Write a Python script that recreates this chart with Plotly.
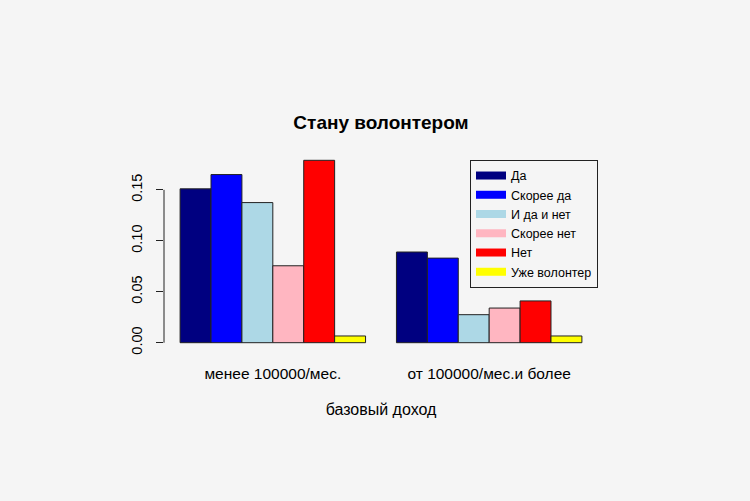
import plotly.graph_objects as go

categories = ["менее 100000/мес.", "от 100000/мес.и более"]
responses = ["Да", "Скорее да", "И да и нет", "Скорее нет", "Нет", "Уже волонтер"]
values = {
    "Да": [0.151, 0.089],
    "Скорее да": [0.165, 0.083],
    "И да и нет": [0.1375, 0.0275],
    "Скорее нет": [0.0755, 0.034],
    "Нет": [0.179, 0.041],
    "Уже волонтер": [0.0066, 0.0066],
}
colors = ["#000080", "#0000FF", "#ADD8E6", "#FFB6C1", "#FF0000", "#FFFF00"]
ytick_vals = [0.0, 0.05, 0.10, 0.15]
ytick_text = ["0.00", "0.05", "0.10", "0.15"]

BG = "#F5F5F5"
FONT = "Liberation Sans, Arial, sans-serif"

fig = go.Figure()
for name, col in zip(responses, colors):
    fig.add_trace(go.Bar(
        x=categories, y=values[name], name=name,
        marker=dict(color=col, line=dict(color="#222222", width=1)),
        showlegend=False,
    ))
# legend entries drawn as thick lines like R's legend(lwd=...)
for name, col in zip(responses, colors):
    fig.add_trace(go.Scatter(
        x=[None], y=[None], mode="lines", name=name,
        line=dict(color=col, width=8),
    ))

ymax = max(max(v) for v in values.values())
pad = 0.04 * ymax

fig.update_layout(
    width=750, height=501,
    paper_bgcolor=BG, plot_bgcolor=BG,
    margin=dict(l=164, r=152, t=153, b=151),
    barmode="group", bargap=1/7, bargroupgap=0,
    font=dict(family=FONT, size=14, color="black"),
    title=dict(text="<b>Стану волонтером</b>", x=0.508, xanchor="center",
               y=1 - 122/501, yanchor="middle",
               font=dict(size=19, family=FONT, color="black")),
    showlegend=True,
    legend=dict(x=1, xanchor="right", y=0.965, yanchor="top",
                bgcolor=BG, bordercolor="#222222", borderwidth=1,
                font=dict(size=12.5, family=FONT, color="black"),
                itemwidth=30),
    xaxis=dict(type="category", range=[-0.503, 1.503], showline=False,
               showgrid=False, zeroline=False, ticks="",
               ticklabelstandoff=12, tickfont=dict(size=15.5),
               title=dict(text="базовый доход", standoff=23,
                          font=dict(size=16))),
    yaxis=dict(range=[-pad, ymax + pad], tickvals=ytick_vals,
               ticktext=ytick_text, tickangle=-90, showline=False,
               showgrid=False, zeroline=False, ticks="outside",
               ticklen=7, tickcolor="#222222", tickwidth=1,
               ticklabelstandoff=8, tickfont=dict(size=14.5)),
)
fig.add_shape(type="line", xref="paper", yref="y", x0=0, x1=0,
              y0=ytick_vals[0], y1=ytick_vals[-1],
              line=dict(color="#222222", width=1))

fig.write_html(
    "out.html",
    config={"displayModeBar": False},
    post_script="document.body.style.margin='0';document.body.style.overflow='hidden';"
                "document.body.style.background='#F5F5F5';",
)
